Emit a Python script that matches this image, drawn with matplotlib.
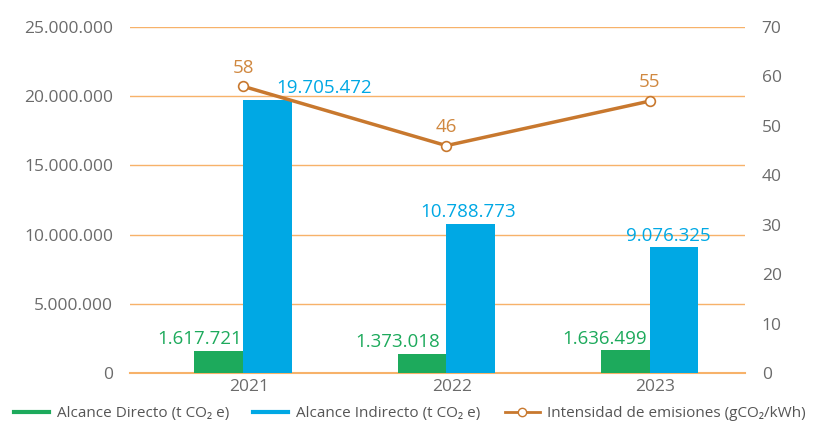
import matplotlib
matplotlib.use("Agg")
import matplotlib.pyplot as plt
import numpy as np
from matplotlib.lines import Line2D

years = ["2021", "2022", "2023"]
directo = [1617721, 1373018, 1636499]
indirecto = [19705472, 10788773, 9076325]
intensidad = [58, 46, 55]
left_ticks = [0, 5000000, 10000000, 15000000, 20000000, 25000000]
right_ticks = [0, 10, 20, 30, 40, 50, 60, 70]

def fmt(v):
    return f"{v:,}".replace(",", ".")

plt.rcParams['font.family'] = ['Open Sans', 'DejaVu Sans']
green = "#1DAA5C"
blue = "#00A8E4"
orange_line = "#C8782E"
orange_txt = "#D08840"
grid_c = "#F7B26A"
tick_c = "#6B6B6B"

fig = plt.figure(figsize=(8.25, 4.24), dpi=100)
ax = fig.add_axes([130/825, 1-373/424, (745-130)/825, (373-27)/424])
ax2 = ax.twinx()

x = np.arange(len(years))
w = 0.24
ax.bar(x - w/2, directo, w, color=green, zorder=3)
ax.bar(x + w/2, indirecto, w, color=blue, zorder=3)
ax.set_ylim(0, 25000000)
ax.set_xlim(-0.557, 2.47)
ax.set_yticks(left_ticks)
ax.set_yticklabels([fmt(v) for v in left_ticks])
ax.set_xticks(x + 0.03)
ax.set_xticklabels(years)
ax.yaxis.grid(True, color=grid_c, lw=1, zorder=0)
ax.set_axisbelow(True)
for s in ["top", "left", "right"]:
    ax.spines[s].set_visible(False)
ax.spines["bottom"].set_color(grid_c)
ax.spines["bottom"].set_linewidth(1.5)
ax.tick_params(axis="y", length=0, labelsize=12.5, colors=tick_c, pad=12)
ax.tick_params(axis="x", length=0, labelsize=12.5, colors=tick_c, pad=4)

ax2.plot(x, intensidad, color=orange_line, lw=2.5, marker="o", ms=7,
         mfc="white", mec=orange_line, mew=1.2, zorder=5)
ax2.set_ylim(0, 70)
ax2.set_yticks(right_ticks)
for s in ["top", "left", "right", "bottom"]:
    ax2.spines[s].set_visible(False)
ax2.tick_params(axis="y", length=0, labelsize=12.5, colors=tick_c, pad=12)

for i, v in enumerate(intensidad):
    ax2.annotate(str(v), (x[i], v), xytext=(0, 7), textcoords="offset points",
                 ha="center", va="bottom", color=orange_txt, fontsize=13.5)

g_off = [-0.094, -0.118, -0.103]
b_off = [0.28, -0.015, -0.025]
for i in range(3):
    ax.annotate(fmt(directo[i]), (x[i] - w/2 + g_off[i], directo[i]), xytext=(0, 2),
                textcoords="offset points", ha="center", va="bottom",
                color=green, fontsize=13.5)
    ax.annotate(fmt(indirecto[i]), (x[i] + w/2 + b_off[i], indirecto[i]),
                xytext=(0, 2), textcoords="offset points", ha="center", va="bottom",
                color=blue, fontsize=13.5)

handles = [
    Line2D([0], [0], color=green, lw=3),
    Line2D([0], [0], color=blue, lw=3),
    Line2D([0], [0], color=orange_line, lw=2, marker="o", mfc="white", mec=orange_line, ms=6),
]
labels = ["Alcance Directo (t CO\u2082 e)", "Alcance Indirecto (t CO\u2082 e)",
          "Intensidad de emisiones (gCO\u2082/kWh)"]
fig.legend(handles, labels, loc="lower left", bbox_to_anchor=(0.0, -0.025), ncol=3,
           frameon=False, fontsize=11, labelcolor="#555555", handlelength=2.3,
           handletextpad=0.5, columnspacing=1.6)

fig.savefig("out.png", dpi=100)
